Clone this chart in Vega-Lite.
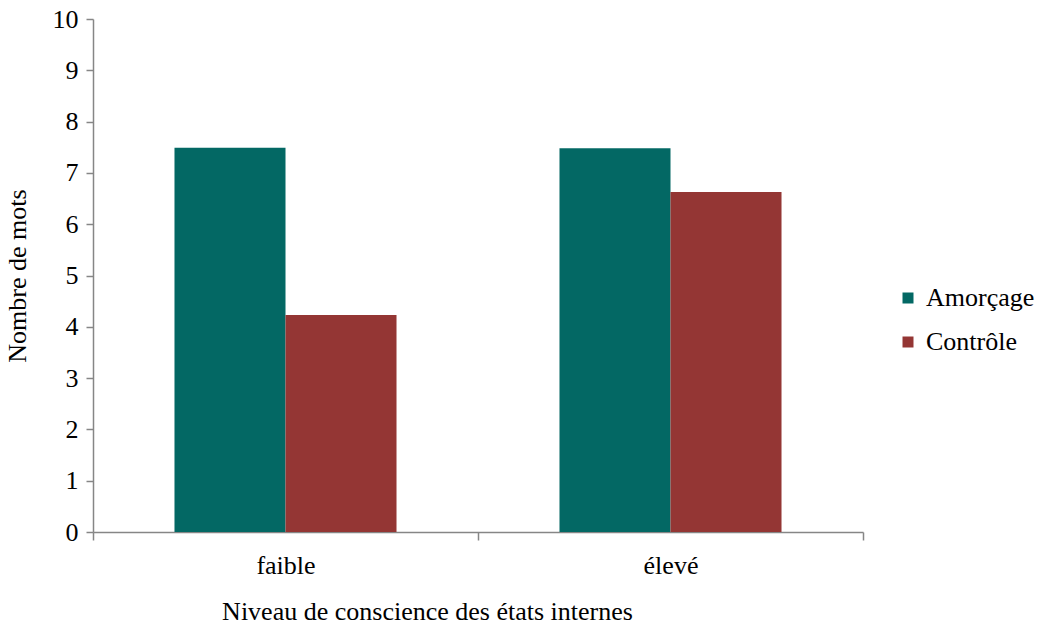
{
  "$schema": "https://vega.github.io/schema/vega-lite/v6.json",
  "autosize": "none",
  "width": 770,
  "height": 513,
  "padding": {"left": 93, "top": 19, "right": 178, "bottom": 94},
  "background": "white",
  "config": {
    "view": {"stroke": null},
    "font": "Liberation Serif",
    "axis": {"domainColor": "#868686", "tickColor": "#868686", "domainWidth": 1.5, "tickWidth": 1.5, "labelColor": "black", "titleColor": "black", "labelFont": "Liberation Serif", "titleFont": "Liberation Serif", "labelFontSize": 26, "titleFontSize": 26, "titleFontWeight": "normal", "grid": false},
    "legend": {"labelFont": "serif", "labelFontSize": 26, "labelColor": "black", "padding": 0}
  },
  "data": {
    "values": [
      {"niveau": "faible", "condition": "Amorçage", "mots": 7.49},
      {"niveau": "faible", "condition": "Contrôle", "mots": 4.23},
      {"niveau": "élevé", "condition": "Amorçage", "mots": 7.48},
      {"niveau": "élevé", "condition": "Contrôle", "mots": 6.63}
    ]
  },
  "mark": {"type": "bar"},
  "encoding": {
    "x": {
      "field": "niveau", "type": "nominal", "sort": ["faible", "élevé"],
      "scale": {"paddingInner": 0, "paddingOuter": 0},
      "axis": {"title": "Niveau de conscience des états internes", "labelAngle": 0, "tickBand": "extent", "tickSize": 8, "labelPadding": 12, "titlePadding": 20, "titleX": 334}
    },
    "xOffset": {
      "field": "condition", "type": "nominal", "sort": ["Amorçage", "Contrôle"],
      "scale": {"paddingInner": 0, "paddingOuter": 0.734}
    },
    "y": {
      "field": "mots", "type": "quantitative",
      "scale": {"domain": [0, 10], "nice": false},
      "axis": {"title": "Nombre de mots", "values": [0,1,2,3,4,5,6,7,8,9,10], "tickSize": 7, "labelPadding": 8, "titlePadding": 22}
    },
    "color": {
      "field": "condition", "type": "nominal", "sort": ["Amorçage", "Contrôle"],
      "scale": {"domain": ["Amorçage", "Contrôle"], "range": ["#036864", "#943634"]},
      "legend": {"title": null, "orient": "none", "legendX": 802, "legendY": 266, "symbolType": "square", "symbolSize": 121, "symbolStrokeWidth": 0, "labelFontSize": 26, "labelFont": "serif", "labelColor": "black", "rowPadding": 18, "labelOffset": 5,
        "encode": {"labels": {"update": {"font": {"value": "serif"}, "fontSize": {"value": 26}}}}}
    }
  }
}
